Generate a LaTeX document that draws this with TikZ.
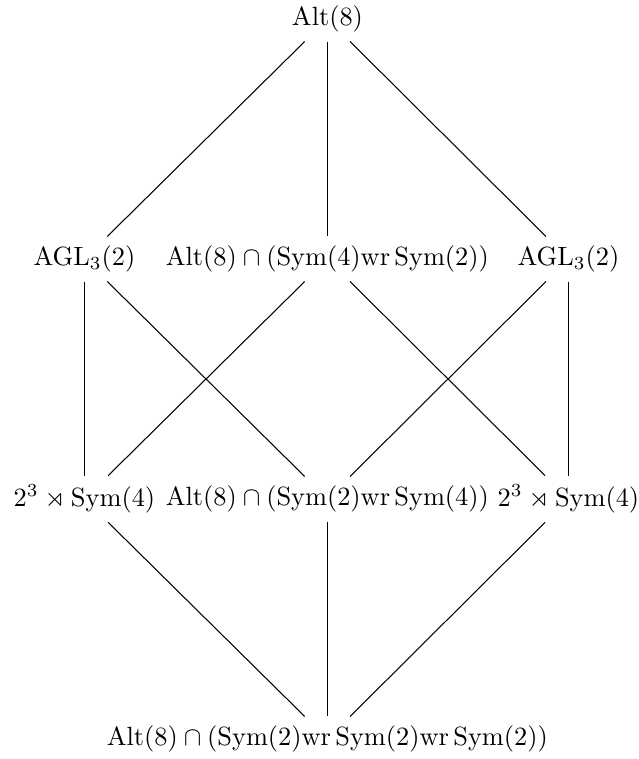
\documentclass[tikz,border=0pt]{standalone}
\usepackage{amsmath,amssymb}
\DeclareMathOperator{\Alt}{Alt}
\DeclareMathOperator{\Sym}{Sym}
\begin{document}
\begin{tikzpicture}[x=0.379pt,y=-0.379pt,
  grp/.style={inner sep=3.333pt},
  link/.style={draw=black,line width=0.4pt}]
\useasboundingbox (0,0) rectangle (638,759);
\node[grp] (top) at (327.5,19) {$\Alt(8)$};
\node[grp] (agla) at (84.5,259) {$\mathrm{AGL}_3(2)$};
\node[grp] (mid2) at (327.5,259) {$\Alt(8)\cap(\Sym(4)\mathrm{wr}\Sym(2))$};
\node[grp] (aglb) at (568.5,259) {$\mathrm{AGL}_3(2)$};
\node[grp] (sda) at (84.5,499) {$2^3\rtimes\Sym(4)$};
\node[grp] (mid3) at (327.5,499) {$\Alt(8)\cap(\Sym(2)\mathrm{wr}\Sym(4))$};
\node[grp] (sdb) at (568.5,499) {$2^3\rtimes\Sym(4)$};
\node[grp] (bot) at (327.5,739) {$\Alt(8)\cap(\Sym(2)\mathrm{wr}\Sym(2)\mathrm{wr}\Sym(2))$};
\draw[link] (top) -- (agla);
\draw[link] (top) -- (mid2);
\draw[link] (top) -- (aglb);
\draw[link] (agla) -- (sda);
\draw[link] (agla) -- (mid3);
\draw[link] (mid2) -- (sda);
\draw[link] (mid2) -- (sdb);
\draw[link] (aglb) -- (mid3);
\draw[link] (aglb) -- (sdb);
\draw[link] (sda) -- (bot);
\draw[link] (mid3) -- (bot);
\draw[link] (sdb) -- (bot);
\end{tikzpicture}
\end{document}
